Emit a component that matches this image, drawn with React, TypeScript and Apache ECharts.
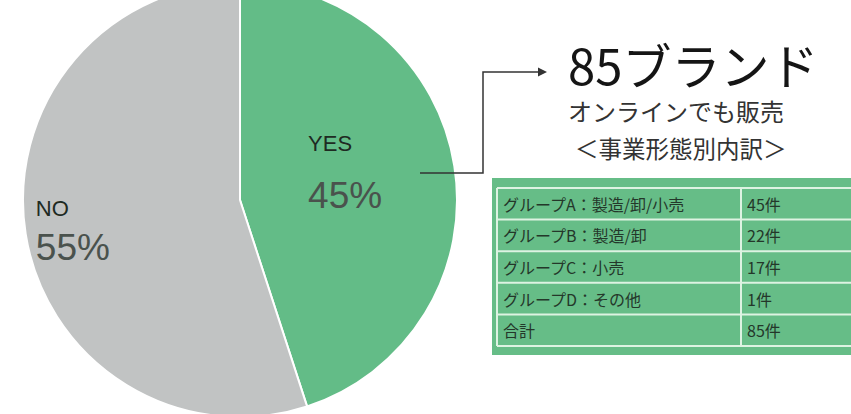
import React, { useEffect, useRef } from "react";
import * as echarts from "echarts";

const sliceNames = ["YES", "NO"];
const sliceValues = [45, 55];
const sliceColors = ["#63BC87", "#C1C3C3"];

const titleText = "85ブランド";
const subtitleText = "オンラインでも販売";
const tableHeading = "＜事業形態別内訳＞";
const groupLabels = [
  "グループA：製造/卸/小売",
  "グループB：製造/卸",
  "グループC：小売",
  "グループD：その他",
  "合計",
];
const groupCounts = ["45件", "22件", "17件", "1件", "85件"];

const JP = '"Noto Sans CJK JP", "Noto Sans", sans-serif';
const LAT = '"Liberation Sans", "Noto Sans", sans-serif';

export default function App() {
  const ref = useRef<HTMLDivElement>(null);
  useEffect(() => {
    document.body.style.margin = "0";
    const chart = echarts.init(ref.current!, undefined, { renderer: "svg" });

    const labelOffsets: Record<string, number[]> = {
      YES: [-5, -13],
      NO: [-57, 13],
    };
    const labelGaps: Record<string, number[]> = {
      YES: [52, 52],
      NO: [34, 44],
    };

    const tableX = 497;
    const tableTop = 188;
    const rowH = 31.6;
    const tableRight = 851;
    const colX = 741;

    const graphics: any[] = [];
    graphics.push({
      type: "polyline",
      z: 10,
      shape: { points: [[420, 173], [483, 173], [483, 72], [539, 72]] },
      style: { stroke: "#333", lineWidth: 1.5, fill: null },
    });
    graphics.push({
      type: "polygon",
      z: 10,
      shape: { points: [[538, 67.5], [547, 72], [538, 76.5]] },
      style: { fill: "#333" },
    });
    graphics.push({
      type: "text",
      x: 568,
      y: 63,
      style: { text: titleText, font: `49px ${JP}`, lineHeight: 46, fill: "#151515", textVerticalAlign: "middle", textAlign: "left" },
    });
    graphics.push({
      type: "text",
      x: 568,
      y: 110,
      style: { text: subtitleText, font: `24px ${JP}`, lineHeight: 24, fill: "#333", textVerticalAlign: "middle", textAlign: "left" },
    });
    graphics.push({
      type: "text",
      x: 575,
      y: 148,
      style: { text: tableHeading, font: `23.5px ${JP}`, lineHeight: 24, fill: "#333", textVerticalAlign: "middle", textAlign: "left" },
    });
    graphics.push({
      type: "rect",
      shape: { x: 492, y: 178, width: 360, height: 177 },
      style: { fill: "#66BD87" },
    });
    const n = groupLabels.length;
    for (let i = 0; i <= n; i++) {
      const y = tableTop + i * rowH;
      graphics.push({
        type: "line",
        shape: { x1: tableX, y1: y, x2: tableRight, y2: y },
        style: { stroke: "#DDF3E2", lineWidth: 2 },
      });
    }
    [tableX, colX].forEach((x) => {
      graphics.push({
        type: "line",
        shape: { x1: x, y1: tableTop, x2: x, y2: tableTop + n * rowH },
        style: { stroke: "#DDF3E2", lineWidth: 2 },
      });
    });
    groupLabels.forEach((g, i) => {
      const cy = tableTop + (i + 0.5) * rowH;
      graphics.push({
        type: "text",
        x: 503,
        y: cy,
        style: { text: g, font: `16px ${JP}`, lineHeight: 18, fill: "#24372A", textVerticalAlign: "middle" },
      });
      graphics.push({
        type: "text",
        x: 747,
        y: cy,
        style: { text: groupCounts[i], font: `16px ${JP}`, lineHeight: 18, fill: "#24372A", textVerticalAlign: "middle" },
      });
    });

    chart.setOption({
      animation: false,
      backgroundColor: "#fff",
      series: [
        {
          type: "pie",
          center: [240, 200],
          radius: 217,
          startAngle: 90,
          clockwise: true,
          itemStyle: { borderColor: "#fff", borderWidth: 2 },
          label: {
            position: "inside",
            align: "left",
            formatter: "{n|{b}}\n{v|{d}%}",
          },
          emphasis: { disabled: true },
          data: sliceNames.map((name, i) => ({
            name,
            value: sliceValues[i],
            itemStyle: { color: sliceColors[i] },
            label: {
              offset: labelOffsets[name],
              rich: {
                n: { fontFamily: LAT, fontSize: 22, color: "#1E2A22", lineHeight: labelGaps[name][0], align: "left" },
                v: { fontFamily: LAT, fontSize: 37, color: "#4A524D", lineHeight: labelGaps[name][1], align: "left" },
              },
            },
          })),
        },
      ],
      graphic: graphics,
    });
    return () => chart.dispose();
  }, []);
  return <div ref={ref} style={{ width: 851, height: 414 }} />;
}
